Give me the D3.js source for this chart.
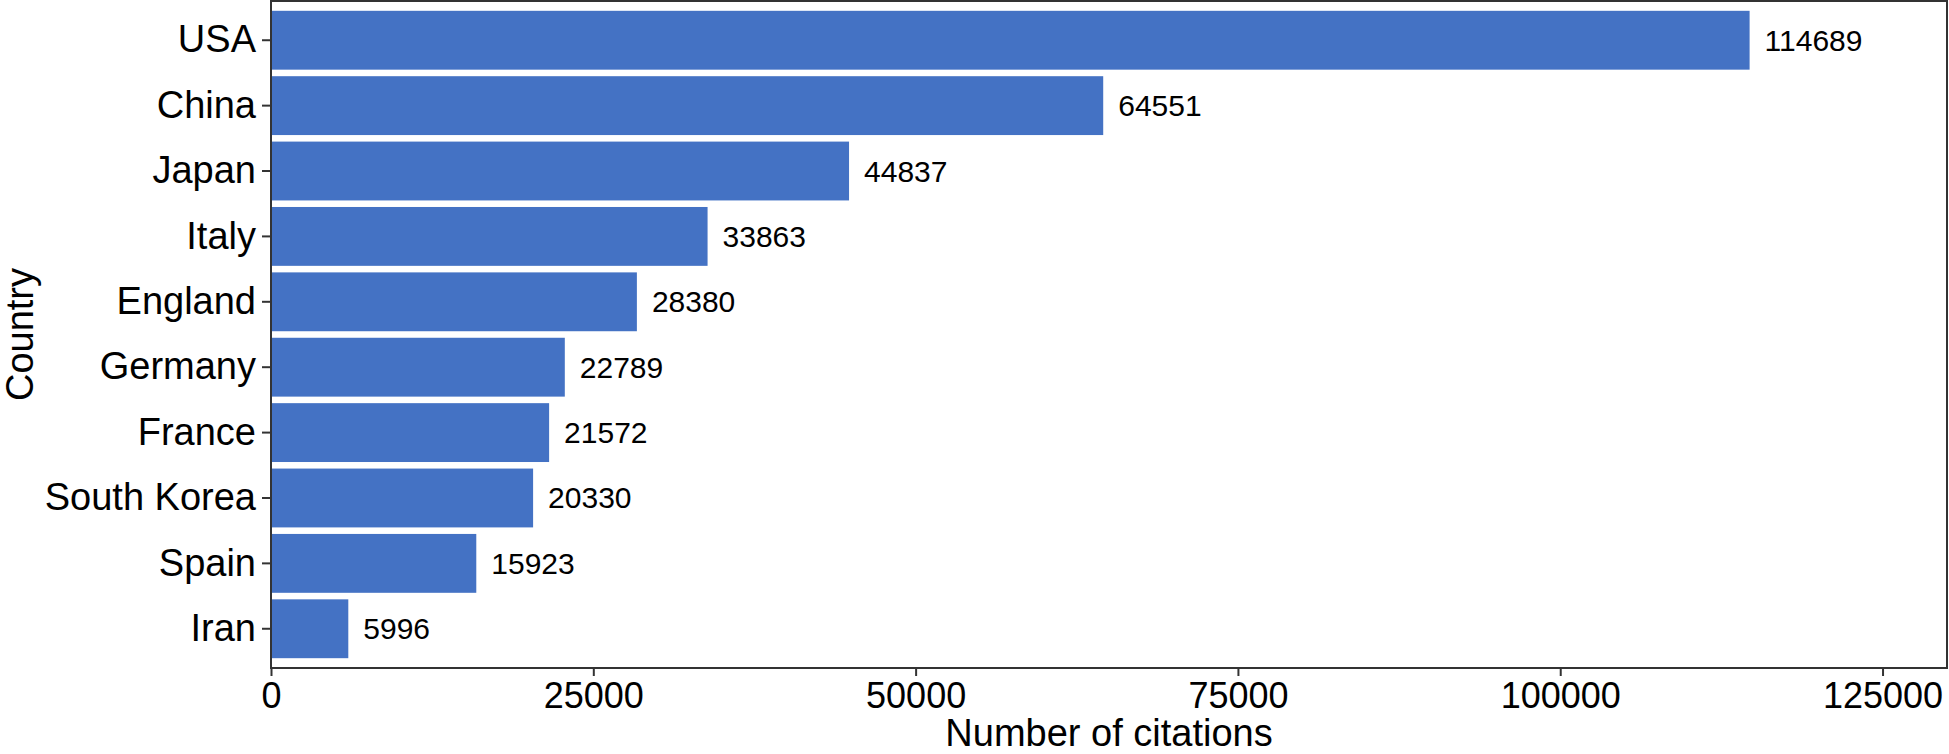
<!DOCTYPE html>
<html>
<head>
<meta charset="utf-8">
<script src="https://cdn.jsdelivr.net/npm/d3@7"></script>
<style>
  body { margin: 0; background: #fff; }
  text { font-family: "Liberation Sans", Arial, sans-serif; fill: #000; }
</style>
</head>
<body>
<div id="vis"></div>
<script>
//data----
const countries = ["USA", "China", "Japan", "Italy", "England", "Germany", "France", "South Korea", "Spain", "Iran"]
const citations = [114689, 64551, 44837, 33863, 28380, 22789, 21572, 20330, 15923, 5996]
const xTicks = [0, 25000, 50000, 75000, 100000, 125000]

const dataset = countries.map((c, i) => ({country: c, value: citations[i]}))

//dimensions---
let dimensions = {
    width: 1949,
    height: 754,
    margins: {left: 271, right: 2, top: 1, bottom: 86},
}
dimensions.boundedwidth = dimensions.width - dimensions.margins.left - dimensions.margins.right
dimensions.boundedheight = dimensions.height - dimensions.margins.top - dimensions.margins.bottom

const wrapper = d3.select("#vis")
    .append("svg")
    .attr("width", dimensions.width)
    .attr("height", dimensions.height)

const bounds = wrapper.append("g")
    .attr("transform", `translate(${dimensions.margins.left},${dimensions.margins.top})`)

//scales------
const xScale = d3.scaleLinear()
    .domain([0, 130000])
    .range([0, dimensions.boundedwidth])

const yScale = d3.scaleBand()
    .domain(countries)
    .range([0, dimensions.boundedheight])
    .paddingInner(0.1)
    .paddingOuter(0.15)

//bars
bounds.append("g")
    .selectAll("rect")
    .data(dataset)
    .enter().append("rect")
    .attr("x", 0)
    .attr("y", d => yScale(d.country))
    .attr("width", d => xScale(d.value))
    .attr("height", yScale.bandwidth())
    .attr("fill", "#4472C4")

//value labels
bounds.append("g")
    .selectAll("text")
    .data(dataset)
    .enter().append("text")
    .attr("x", d => xScale(d.value) + 15)
    .attr("y", d => yScale(d.country) + yScale.bandwidth() / 2)
    .attr("dy", "0.35em")
    .style("font-size", "30px")
    .text(d => d.value)

//axes-------
const xAxis = bounds.append("g")
    .attr("transform", `translate(0,${dimensions.boundedheight})`)
    .call(d3.axisBottom(xScale).tickValues(xTicks).tickSize(8).tickPadding(6).tickSizeOuter(0).tickFormat(d3.format("d")))
xAxis.select(".domain").remove()
xAxis.selectAll(".tick line").attr("stroke", "#333").attr("stroke-width", 2)
xAxis.selectAll(".tick text").style("font-size", "36px").attr("fill", "#000")

const yAxis = bounds.append("g")
    .call(d3.axisLeft(yScale).tickSize(9).tickPadding(6).tickSizeOuter(0))
yAxis.select(".domain").remove()
yAxis.selectAll(".tick line").attr("stroke", "#333").attr("stroke-width", 2)
yAxis.selectAll(".tick text").style("font-size", "38px").attr("fill", "#000")

//panel border
bounds.append("rect")
    .attr("x", 0)
    .attr("y", 0)
    .attr("width", dimensions.boundedwidth)
    .attr("height", dimensions.boundedheight)
    .attr("fill", "none")
    .attr("stroke", "#333")
    .attr("stroke-width", 2)

//axis titles
bounds.append("text")
    .attr("x", dimensions.boundedwidth / 2)
    .attr("y", dimensions.boundedheight + 78)
    .style("text-anchor", "middle")
    .style("font-size", "38px")
    .text("Number of citations")

bounds.append("text")
    .attr("transform", `translate(${-dimensions.margins.left + 33},${dimensions.boundedheight / 2}) rotate(-90)`)
    .style("text-anchor", "middle")
    .style("font-size", "38px")
    .text("Country")
</script>
</body>
</html>
